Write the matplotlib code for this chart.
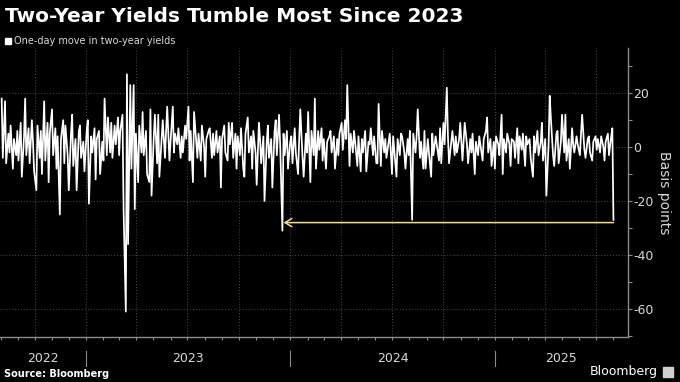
import pandas as pd
import numpy as np
import matplotlib
matplotlib.use("Agg")
import matplotlib.pyplot as plt
import matplotlib.dates as mdates
from matplotlib.patches import Rectangle
from matplotlib.transforms import blended_transform_factory

title = "Two-Year Yields Tumble Most Since 2023"
legend_label = "One-day move in two-year yields"
source = "Source: Bloomberg"
brand = "Bloomberg"
y_label = "Basis points"
last_day = "2025-08-01"

# one-day move in 2y yields (bp), every other trading day
moves = [
    18, -4, 17, -6, 5, -2, 8, -8, 3, -3,
    6, -5, 9, -11, 4, 18, -3, 7, -6, 10,
    2, -9, -16, 8, -4, 6, -10, 17, -5, 9,
    -13, 5, 14, -3, 7, -8, 4, -25, 3, 10,
    -6, 8, -3, -16, 5, 12, -7, 3, -16, 6,
    8, -4, 2, -9, 6, 10, -21, 4, -2, 7,
    -12, 3, 6, -10, 2, -5, 18, -3, 11, -2,
    9, -4, 8, 1, 11, -3, 6, 12, -23, -61,
    27, -36, 23, -8, 23, -23, 5, -13, 8, -2,
    13, -3, 6, -10, -13, 14, -18, 4, 12, -6,
    12, -11, 3, 10, -4, 6, 15, -5, 2, 15,
    -2, 5, 1, 7, -4, 4, -2, 8, 3, 15,
    -5, 6, -13, 13, 2, -4, 5, -5, 8, 0,
    -11, 3, 6, 7, -4, 5, -3, 6, -2, 4,
    -15, 3, 8, -2, -5, 9, 1, 9, -4, 5,
    -8, 4, -3, 7, -8, -11, 5, 11, -2, 4,
    -8, 6, -2, -14, 9, 3, -6, 4, -20, 2,
    8, -4, 3, -15, 6, 10, -3, 12, 1, -31,
    5, -3, 6, -8, 2, 4, -6, 7, -2, -10,
    3, 14, -4, -11, 5, -2, 13, -13, 6, -3,
    18, -8, 6, -1, 7, -5, 3, -8, 2, 4,
    6, -2, 4, -8, 3, -3, 5, 9, -1, 10,
    3, 23, -7, 5, -2, 6, 2, -7, 4, -9,
    3, -2, 6, -9, 2, 1, 7, -3, 4, -6,
    -6, 16, -7, 6, -2, 3, -4, 2, 5, -10,
    4, -1, -11, 3, -3, 5, 4, -2, -8, 3,
    -3, 6, -27, 5, -2, 4, 14, -4, 2, -8,
    6, -8, 3, -2, -11, 5, -3, 4, 1, -5,
    7, -6, 9, 1, 22, 4, -6, 2, 6, -3,
    4, -2, 3, 9, -5, 2, 9, 1, -6, 3,
    -2, 5, -10, 2, -3, 4, 1, -5, 3, 6,
    11, -2, 3, -7, 2, -8, 4, 1, -3, 12,
    -10, 3, -2, 5, 1, -7, 3, 2, -4, 7,
    -6, 4, -1, 5, -7, 4, 1, 3, -4, -11,
    4, -2, 6, -3, 2, 9, -5, 3, -18, 1,
    19, 11, -3, -7, 5, 6, -6, 2, 12, -2,
    12, -5, 3, -8, 7, 1, -2, 4, 1, -3,
    5, 12, -1, -4, 3, 4, -2, -5, 2, 4,
    -1, 3, -2, 4, 0, -5, 2, 5, -3, 4,
    7, -27,
]
arrow_level = -28
years = [2022, 2023, 2024, 2025]
y_ticks = [20, 0, -20, -40, -60]

dates = pd.date_range(end=last_day, periods=len(moves), freq="2B")
s = pd.Series(moves, index=dates)

bg = "black"
fg = "#d9d9d9"
grid_c = "#4a4a4a"
axis_c = "#8c8c8c"

fig = plt.figure(figsize=(6.8, 3.82), dpi=100, facecolor=bg)
ax = fig.add_axes([0.0, 0.118, 628 / 680, 0.756])
ax.set_facecolor(bg)

ax.plot(s.index, s.values, color="white", lw=1.25)

# arrow from latest drop back to the previous one of that size
prev = s["2023-06":"2024-06"].idxmin()
ax.annotate("", xy=(prev + pd.Timedelta(days=2), arrow_level),
            xytext=(s.index[-1], arrow_level),
            arrowprops=dict(arrowstyle="->,head_length=0.5,head_width=0.3",
                            color="#e8e29c", lw=1.1, shrinkA=0, shrinkB=0))

x0 = pd.Timestamp("2022-07-31")
x1 = pd.Timestamp("2025-08-27")
ax.set_xlim(x0, x1)
ax.set_ylim(-70.4, 36.7)

ax.yaxis.tick_right()
ax.yaxis.set_label_position("right")
ax.set_yticks(y_ticks)
ax.set_yticks([30, 10, -10, -30, -50, -70], minor=True)
ax.set_yticklabels([str(v) for v in y_ticks])
ax.tick_params(axis="y", which="both", colors=axis_c, labelcolor=fg,
               labelsize=9, length=3, width=0.8, pad=1)
ax.set_ylabel(y_label, color=fg, fontsize=10, rotation=-90, labelpad=12)

ax.xaxis.set_major_locator(mdates.MonthLocator(bymonth=[1, 4, 7, 10]))
ax.xaxis.set_minor_locator(mdates.MonthLocator())
ax.xaxis.set_major_formatter(plt.NullFormatter())
ax.tick_params(axis="x", which="both", colors=axis_c, length=2.5, width=0.8)

ax.grid(True, which="major", color=grid_c, lw=0.7, ls=(0, (1, 2)))

for side in ["left", "top"]:
    ax.spines[side].set_visible(False)
for side in ["right", "bottom"]:
    ax.spines[side].set_color(axis_c)
    ax.spines[side].set_linewidth(1.0)

# year labels and separators under the axis
tr = blended_transform_factory(ax.transData, ax.transAxes)
for y in years:
    a = max(pd.Timestamp(f"{y}-01-01"), x0)
    b = min(pd.Timestamp(f"{y + 1}-01-01"), x1)
    mid = a + (b - a) / 2
    ax.text(mid, -0.075, str(y), transform=tr, ha="center", va="center",
            color=fg, fontsize=9)
    if y > years[0]:
        ax.plot([pd.Timestamp(f"{y}-01-01")] * 2, [-0.05, -0.1], transform=tr,
                color=axis_c, lw=0.8, clip_on=False)

fig.text(5 / 680, 1 - 16 / 382, title, color="white", fontsize=14.5,
         fontweight="bold", ha="left", va="center")
fig.patches.append(Rectangle((5 / 680, 1 - 44 / 382), 6 / 680, 6 / 382,
                             transform=fig.transFigure, color="white"))
fig.text(14 / 680, 1 - 41 / 382, legend_label, color=fg, fontsize=7,
         ha="left", va="center")
fig.text(4 / 680, 1 - 374 / 382, source, color="white", fontsize=7,
         fontweight="bold", ha="left", va="center")
fig.text(658 / 680, 1 - 372 / 382, brand, color="white", fontsize=9,
         ha="right", va="center")
fig.patches.append(Rectangle((663 / 680, 1 - 377 / 382), 10 / 680, 10 / 382,
                             transform=fig.transFigure, color="#cfcfcf"))

fig.savefig("out.png", dpi=100, facecolor=bg)
